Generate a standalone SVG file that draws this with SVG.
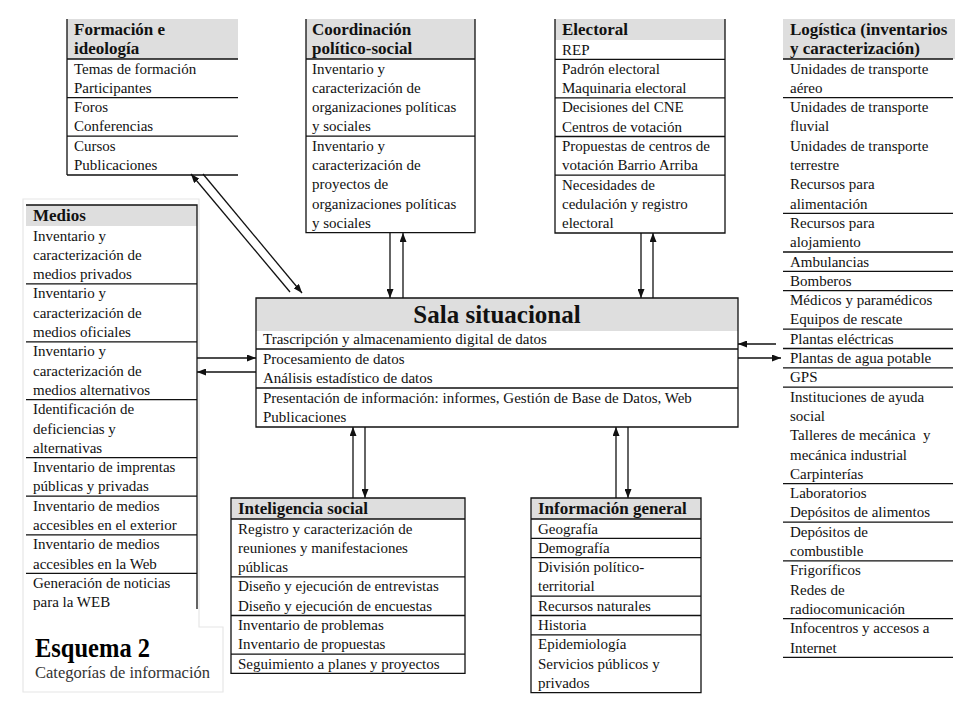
<svg xmlns="http://www.w3.org/2000/svg" width="960" height="720" viewBox="0 0 960 720">
<style>
.t{font-family:"Liberation Serif","Times New Roman",serif;font-size:15px;fill:#111}
.h{font-family:"Liberation Serif","Times New Roman",serif;font-size:17px;font-weight:bold;fill:#111}
.hd{fill:#dedede}
.ln{stroke:#111;stroke-width:1.3;fill:none}
.cn{stroke:#111;stroke-width:1.3;fill:none;marker-end:url(#ah)}
</style>
<defs>
<marker id="ah" viewBox="0 0 9 7" refX="9" refY="3.5" markerWidth="9" markerHeight="7" markerUnits="userSpaceOnUse" orient="auto"><path d="M0,0 L9,3.5 L0,7 z" fill="#111"/></marker>
</defs>
<rect width="960" height="720" fill="#fff"/>
<path d="M23,199 H199 V627 H223 V692 H23 Z" fill="none" stroke="#e6e6e6" stroke-width="1.2"/>

<g id="formacion">
<rect class="hd" x="67" y="19" width="171" height="40"/>
<text class="h" x="74" y="35">Formación e</text>
<text class="h" x="74" y="54">ideología</text>
<path class="ln" d="M67,19 V175 M67,59 H238 M67,97.6 H238 M67,136.2 H238 M67,175 H238"/>
<text class="t" x="74" y="73.5">Temas de formación</text>
<text class="t" x="74" y="92.8">Participantes</text>
<text class="t" x="74" y="112.1">Foros</text>
<text class="t" x="74" y="131.4">Conferencias</text>
<text class="t" x="74" y="150.7">Cursos</text>
<text class="t" x="74" y="170">Publicaciones</text>
</g>

<g id="coordinacion">
<rect class="hd" x="306" y="19" width="169" height="40"/>
<text class="h" x="312" y="35">Coordinación</text>
<text class="h" x="312" y="54">político-social</text>
<path class="ln" d="M306,19 V232.7 H475 V19 M306,59 H475 M306,136.2 H475"/>
<text class="t" x="312" y="73.5">Inventario y</text>
<text class="t" x="312" y="92.8">caracterización de</text>
<text class="t" x="312" y="112.1">organizaciones políticas</text>
<text class="t" x="312" y="131.4">y sociales</text>
<text class="t" x="312" y="150.7">Inventario y</text>
<text class="t" x="312" y="170">caracterización de</text>
<text class="t" x="312" y="189.3">proyectos de</text>
<text class="t" x="312" y="208.6">organizaciones políticas</text>
<text class="t" x="312" y="227.9">y sociales</text>
</g>

<g id="electoral">
<rect class="hd" x="555" y="19" width="170" height="21"/>
<text class="h" x="562" y="35">Electoral</text>
<path class="ln" d="M555,19 V233 H725 V19 M555,59.3 H725 M555,97.9 H725 M555,136.5 H725 M555,175.1 H725"/>
<text class="t" x="562" y="54.5">REP</text>
<text class="t" x="562" y="73.8">Padrón electoral</text>
<text class="t" x="562" y="93.1">Maquinaria electoral</text>
<text class="t" x="562" y="112.4">Decisiones del CNE</text>
<text class="t" x="562" y="131.7">Centros de votación</text>
<text class="t" x="562" y="151">Propuestas de centros de</text>
<text class="t" x="562" y="170.3">votación Barrio Arriba</text>
<text class="t" x="562" y="189.6">Necesidades de</text>
<text class="t" x="562" y="208.9">cedulación y registro</text>
<text class="t" x="562" y="228.2">electoral</text>
</g>

<g id="logistica">
<rect class="hd" x="783" y="19" width="172" height="40"/>
<text class="h" x="790" y="35">Logística (inventarios</text>
<text class="h" x="790" y="54">y caracterización)</text>
<path class="ln" d="M783,59 H953 M783,97.6 H953 M783,213.4 H953 M783,252 H953 M783,271.3 H953 M783,290.6 H953 M783,329.2 H953 M783,348.5 H953 M783,367.8 H953 M783,387.1 H953 M783,483.6 H953 M783,522.2 H953 M783,560.8 H953 M783,618.7 H953 M783,657.3 H953"/>
<text class="t" x="790" y="73.5">Unidades de transporte</text>
<text class="t" x="790" y="92.8">aéreo</text>
<text class="t" x="790" y="112.1">Unidades de transporte</text>
<text class="t" x="790" y="131.4">fluvial</text>
<text class="t" x="790" y="150.7">Unidades de transporte</text>
<text class="t" x="790" y="170">terrestre</text>
<text class="t" x="790" y="189.3">Recursos para</text>
<text class="t" x="790" y="208.6">alimentación</text>
<text class="t" x="790" y="227.9">Recursos para</text>
<text class="t" x="790" y="247.2">alojamiento</text>
<text class="t" x="790" y="266.5">Ambulancias</text>
<text class="t" x="790" y="285.8">Bomberos</text>
<text class="t" x="790" y="305.1">Médicos y paramédicos</text>
<text class="t" x="790" y="324.4">Equipos de rescate</text>
<text class="t" x="790" y="343.7">Plantas eléctricas</text>
<text class="t" x="790" y="363">Plantas de agua potable</text>
<text class="t" x="790" y="382.3">GPS</text>
<text class="t" x="790" y="401.6">Instituciones de ayuda</text>
<text class="t" x="790" y="420.9">social</text>
<text class="t" x="790" y="440.2" xml:space="preserve">Talleres de mecánica  y</text>
<text class="t" x="790" y="459.5">mecánica industrial</text>
<text class="t" x="790" y="478.8">Carpinterías</text>
<text class="t" x="790" y="498.1">Laboratorios</text>
<text class="t" x="790" y="517.4">Depósitos de alimentos</text>
<text class="t" x="790" y="536.7">Depósitos de</text>
<text class="t" x="790" y="556">combustible</text>
<text class="t" x="790" y="575.3">Frigoríficos</text>
<text class="t" x="790" y="594.6">Redes de</text>
<text class="t" x="790" y="613.9">radiocomunicación</text>
<text class="t" x="790" y="633.2">Infocentros y accesos a</text>
<text class="t" x="790" y="652.5">Internet</text>
</g>

<g id="medios">
<rect class="hd" x="26" y="205" width="171" height="21"/>
<text class="h" x="33" y="221">Medios</text>
<path class="ln" d="M26,205 H197 V609 M26,283.9 H197 M26,341.8 H197 M26,399.7 H197 M26,457.6 H197 M26,496.2 H197 M26,534.8 H197 M26,573.4 H197"/>
<text class="t" x="33" y="240.5">Inventario y</text>
<text class="t" x="33" y="259.8">caracterización de</text>
<text class="t" x="33" y="279.1">medios privados</text>
<text class="t" x="33" y="298.4">Inventario y</text>
<text class="t" x="33" y="317.7">caracterización de</text>
<text class="t" x="33" y="337">medios oficiales</text>
<text class="t" x="33" y="356.3">Inventario y</text>
<text class="t" x="33" y="375.6">caracterización de</text>
<text class="t" x="33" y="394.9">medios alternativos</text>
<text class="t" x="33" y="414.2">Identificación de</text>
<text class="t" x="33" y="433.5">deficiencias y</text>
<text class="t" x="33" y="452.8">alternativas</text>
<text class="t" x="33" y="472.1">Inventario de imprentas</text>
<text class="t" x="33" y="491.4">públicas y privadas</text>
<text class="t" x="33" y="510.7">Inventario de medios</text>
<text class="t" x="33" y="530">accesibles en el exterior</text>
<text class="t" x="33" y="549.3">Inventario de medios</text>
<text class="t" x="33" y="568.6">accesibles en la Web</text>
<text class="t" x="33" y="587.9">Generación de noticias</text>
<text class="t" x="33" y="607.2">para la WEB</text>
</g>

<g id="sala">
<rect class="hd" x="256" y="298" width="482" height="33"/>
<text x="497" y="323" text-anchor="middle" style="font-family:'Liberation Serif','Times New Roman',serif;font-size:25px;font-weight:bold;fill:#111">Sala situacional</text>
<path class="ln" d="M256,298 H738 V427 H256 Z M256,349 H738 M256,388 H738"/>
<text class="t" x="263" y="344">Trascripción y almacenamiento digital de datos</text>
<text class="t" x="263" y="364">Procesamiento de datos</text>
<text class="t" x="263" y="383">Análisis estadístico de datos</text>
<text class="t" x="263" y="403">Presentación de información: informes, Gestión de Base de Datos, Web</text>
<text class="t" x="263" y="422">Publicaciones</text>
</g>

<g id="inteligencia">
<rect class="hd" x="231" y="498" width="234" height="21"/>
<text class="h" x="238" y="514">Inteligencia social</text>
<path class="ln" d="M231,498 H465 V673.4 H231 Z M231,519 H465 M231,576.9 H465 M231,615.5 H465 M231,654.1 H465"/>
<text class="t" x="238" y="533.5">Registro y caracterización de</text>
<text class="t" x="238" y="552.8">reuniones y manifestaciones</text>
<text class="t" x="238" y="572.1">públicas</text>
<text class="t" x="238" y="591.4">Diseño y ejecución de entrevistas</text>
<text class="t" x="238" y="610.7">Diseño y ejecución de encuestas</text>
<text class="t" x="238" y="630">Inventario de problemas</text>
<text class="t" x="238" y="649.3">Inventario de propuestas</text>
<text class="t" x="238" y="668.6">Seguimiento a planes y proyectos</text>
</g>

<g id="info-general">
<rect class="hd" x="531" y="498" width="170" height="21"/>
<text class="h" x="538" y="514">Información general</text>
<path class="ln" d="M531,498 H701 V692.7 H531 Z M531,519 H701 M531,538.3 H701 M531,557.6 H701 M531,596.2 H701 M531,615.5 H701 M531,634.8 H701"/>
<text class="t" x="538" y="533.5">Geografía</text>
<text class="t" x="538" y="552.8">Demografía</text>
<text class="t" x="538" y="572.1">División político-</text>
<text class="t" x="538" y="591.4">territorial</text>
<text class="t" x="538" y="610.7">Recursos naturales</text>
<text class="t" x="538" y="630">Historia</text>
<text class="t" x="538" y="649.3">Epidemiología</text>
<text class="t" x="538" y="668.6">Servicios públicos y</text>
<text class="t" x="538" y="687.9">privados</text>
</g>

<g id="caption">
<text x="35" y="657" textLength="115" lengthAdjust="spacingAndGlyphs" style="font-family:'Liberation Serif','Times New Roman',serif;font-size:28px;font-weight:bold;fill:#000">Esquema 2</text>
<text x="35" y="678" style="font-family:'Liberation Serif','Times New Roman',serif;font-size:16.5px;fill:#333">Categorías de información</text>
</g>

<g id="connectors">
<line class="cn" x1="290" y1="292" x2="191" y2="174"/>
<line class="cn" x1="203" y1="174" x2="302" y2="293"/>
<line class="cn" x1="390" y1="233" x2="390" y2="298"/>
<line class="cn" x1="403" y1="298" x2="403" y2="233"/>
<line class="cn" x1="641" y1="233" x2="641" y2="298"/>
<line class="cn" x1="653" y1="298" x2="653" y2="233"/>
<line class="cn" x1="353" y1="498" x2="353" y2="427"/>
<line class="cn" x1="365" y1="427" x2="365" y2="498"/>
<line class="cn" x1="616" y1="498" x2="616" y2="427"/>
<line class="cn" x1="628" y1="427" x2="628" y2="498"/>
<line class="cn" x1="197" y1="358" x2="256" y2="358"/>
<line class="cn" x1="256" y1="372" x2="197" y2="372"/>
<line class="cn" x1="776" y1="344" x2="738" y2="344"/>
<line class="cn" x1="738" y1="358" x2="781" y2="358"/>
</g>
</svg>
